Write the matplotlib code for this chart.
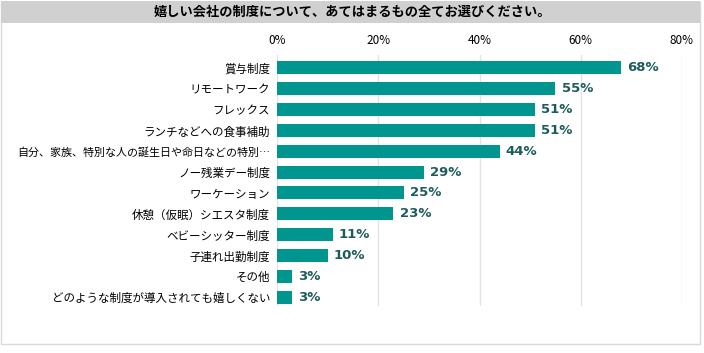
import numpy as np
import matplotlib.pyplot as plt
import matplotlib.ticker as ticker
from matplotlib.patches import Rectangle

plt.rcParams['font.family'] = ['Noto Sans CJK JP', 'DejaVu Sans']

title = '嬉しい会社の制度について、あてはまるもの全てお選びください。'
categories = ['賞与制度', 'リモートワーク', 'フレックス', 'ランチなどへの食事補助',
              '自分、家族、特別な人の誕生日や命日などの特別…', 'ノー残業デー制度',
              'ワーケーション', '休憩（仮眠）シエスタ制度', 'ベビーシッター制度',
              '子連れ出勤制度', 'その他', 'どのような制度が導入されても嬉しくない']
values = [68, 55, 51, 51, 44, 29, 25, 23, 11, 10, 3, 3]
xticks = [0, 20, 40, 60, 80]

fig = plt.figure(figsize=(7.04, 3.53), dpi=100)
# frame and title band
fig.patches.append(Rectangle((0.002, 0.025), 0.993, 0.97, transform=fig.transFigure,
                             fill=False, edgecolor='#d9d9d9', lw=1))
fig.patches.append(Rectangle((0.002, 0.935), 0.993, 0.062, transform=fig.transFigure,
                             facecolor='#d0d0d0', edgecolor='none'))
fig.text(0.5, 0.966, title, ha='center', va='center', fontsize=9.5, fontweight='bold')

ax = fig.add_axes([277/704, 1-306/353, (682-277)/704, (306-55)/353])
y = np.arange(len(categories))
ax.barh(y, values, height=0.62, color='#00958f', zorder=3)
for yi, v in zip(y, values):
    ax.text(v + 1.2, yi, f'{v}%', va='center', ha='left', fontsize=9.5,
            fontweight='bold', color='#1e5c5c', family='DejaVu Sans')

ax.set_xlim(0, 80)
ax.set_ylim(11.43, -0.62)
ax.set_yticks(y)
ax.set_yticklabels(categories, fontsize=8.3)
for lab in ax.get_yticklabels():
    if len(lab.get_text()) > 20:
        lab.set_fontsize(7.9)
ax.set_xticks(xticks)
ax.xaxis.set_major_formatter(ticker.FuncFormatter(lambda v, p: f'{v:.0f}%'))
ax.xaxis.tick_top()
ax.tick_params(axis='x', length=0, pad=6, labelsize=8.5)
ax.tick_params(axis='y', length=0, pad=5)
ax.grid(axis='x', color='#e3e3e3', lw=1, zorder=0)
for s in ax.spines.values():
    s.set_visible(False)

plt.savefig('out.png', dpi=100)
